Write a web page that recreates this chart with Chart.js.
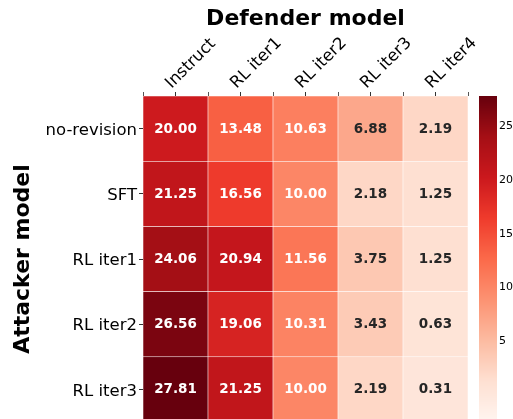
<!DOCTYPE html>
<html>
<head>
<meta charset="utf-8">
<script src="https://cdn.jsdelivr.net/npm/chart.js@4/dist/chart.umd.min.js"></script>
<style>
html,body{margin:0;padding:0;background:#fff;overflow:hidden;}
</style>
</head>
<body>
<canvas id="c" width="513" height="422"></canvas>
<script>
// ---- data ----
const defenders = ['Instruct', 'RL iter1', 'RL iter2', 'RL iter3', 'RL iter4'];
const attackers = ['no-revision', 'SFT', 'RL iter1', 'RL iter2', 'RL iter3'];
const noRevision = [20.00, 13.48, 10.63, 6.88, 2.19];
const sft        = [21.25, 16.56, 10.00, 2.18, 1.25];
const rlIter1    = [24.06, 20.94, 11.56, 3.75, 1.25];
const rlIter2    = [26.56, 19.06, 10.31, 3.43, 0.63];
const rlIter3    = [27.81, 21.25, 10.00, 2.19, 0.31];
const colorbarTicks = [5, 10, 15, 20, 25];
const colorMin = -2.5;
const colorMax = 27.81;

const rows = [noRevision, sft, rlIter1, rlIter2, rlIter3];

// matplotlib "Reds"
const reds = [[255,245,240],[254,224,210],[252,187,161],[252,146,114],[251,106,74],[239,59,44],[203,24,29],[165,15,21],[103,0,13]];
function redsRGB(t){
  t = Math.max(0, Math.min(1, t));
  const p = t * (reds.length - 1);
  const i = Math.min(reds.length - 2, Math.floor(p));
  const f = p - i;
  return reds[i].map((c, k) => c + (reds[i+1][k] - c) * f);
}
function norm(v){ return (v - colorMin) / (colorMax - colorMin); }
function rgbStr(c){ return 'rgb(' + c.map(Math.round).join(',') + ')'; }
function lum(c){
  const l = c.map(x => { x /= 255; return x <= 0.03928 ? x / 12.92 : Math.pow((x + 0.055) / 1.055, 2.4); });
  return 0.2126 * l[0] + 0.7152 * l[1] + 0.0722 * l[2];
}

const FONT = 'DejaVu Sans';
Chart.defaults.font.family = FONT;
Chart.defaults.color = '#000';

const datasets = rows.map((vals, r) => ({
  label: attackers[r],
  data: vals.map(() => [r, r + 1]),
  values: vals,
  backgroundColor: vals.map(v => rgbStr(redsRGB(norm(v)))),
  borderColor: 'rgba(255,255,255,0.75)',
  borderWidth: 0.6,
  borderSkipped: false,
  grouped: false,
  barPercentage: 1,
  categoryPercentage: 1,
  xAxisID: 'x',
  yAxisID: 'y'
}));

const annotatePlugin = {
  id: 'annotate',
  afterDatasetsDraw(chart){
    const ctx = chart.ctx;
    ctx.save();
    ctx.font = 'bold 13.5px "' + FONT + '"';
    ctx.textAlign = 'center';
    ctx.textBaseline = 'middle';
    chart.data.datasets.forEach((ds, di) => {
      const meta = chart.getDatasetMeta(di);
      meta.data.forEach((el, i) => {
        const v = ds.values[i];
        const c = redsRGB(norm(v));
        ctx.fillStyle = lum(c) < 0.408 ? '#ffffff' : '#262626';
        ctx.fillText(v.toFixed(2), el.x, (el.y + el.base) / 2 + 0.5);
      });
    });
    ctx.restore();
  }
};

const colorbarPlugin = {
  id: 'colorbar',
  afterDraw(chart){
    const s = chart.scales.cbar;
    const ctx = chart.ctx;
    const x0 = chart.chartArea.right + 11, w = 18;
    ctx.save();
    for (let y = Math.floor(s.top); y < Math.ceil(s.bottom); y++) {
      const v = s.getValueForPixel(y + 0.5);
      ctx.fillStyle = rgbStr(redsRGB(norm(v)));
      ctx.fillRect(x0, y, w, 1);
    }
    ctx.restore();
  }
};

function noPad(scale){ scale.paddingTop = 0; scale.paddingBottom = 0; }

new Chart(document.getElementById('c'), {
  type: 'bar',
  data: { labels: defenders, datasets },
  options: {
    responsive: false,
    animation: false,
    layout: { padding: 0 },
    plugins: { legend: { display: false }, tooltip: { enabled: false }, title: { display: false } },
    scales: {
      x: {
        type: 'category',
        position: 'top',
        weight: 1,
        offset: true,
        grid: { display: true, drawOnChartArea: false, drawTicks: true, tickLength: 4, offset: false, color: '#333' },
        border: { display: false },
        ticks: { maxRotation: 45, minRotation: 45, padding: -1, labelOffset: 7, font: { size: 16.5 }, color: '#000' },
        title: { display: true, text: 'Defender model', font: { size: 22, weight: 'bold' }, padding: { top: 6, bottom: 0 }, color: '#000' },
        afterFit(scale){ scale.height = 96; }
      },
      xEdges: {
        type: 'category',
        position: 'top',
        weight: 0,
        offset: true,
        grid: { display: true, drawOnChartArea: false, drawTicks: true, tickLength: 4, offset: true, color: '#555' },
        border: { display: false },
        ticks: { display: false },
        afterFit(scale){ scale.height = 0; }
      },
      y: {
        type: 'linear',
        position: 'left',
        min: 0, max: 5,
        reverse: true,
        grid: { display: true, drawOnChartArea: false, drawTicks: true, tickLength: 4, color: '#333' },
        border: { display: false },
        afterBuildTicks(scale){ scale.ticks = attackers.map((a, i) => ({ value: i + 0.5 })); },
        ticks: { padding: 2, labelOffset: 2, font: { size: 16.5 }, color: '#000', callback: (v) => attackers[Math.floor(v)] },
        title: { display: true, text: 'Attacker model', font: { size: 22, weight: 'bold' }, padding: { top: 10, bottom: 0 }, color: '#000' },
        afterFit(scale){ scale.width = 143; noPad(scale); }
      },
      cbar: {
        type: 'linear',
        position: 'right',
        min: colorMin, max: colorMax,
        grid: { display: false, drawTicks: true, tickLength: 29 },
        border: { display: false },
        afterBuildTicks(scale){ scale.ticks = colorbarTicks.map(v => ({ value: v })); },
        ticks: { padding: 2, font: { size: 11 }, color: '#000' },
        afterFit(scale){ scale.width = 45; noPad(scale); }
      }
    }
  },
  plugins: [annotatePlugin, colorbarPlugin]
});
</script>
</body>
</html>
